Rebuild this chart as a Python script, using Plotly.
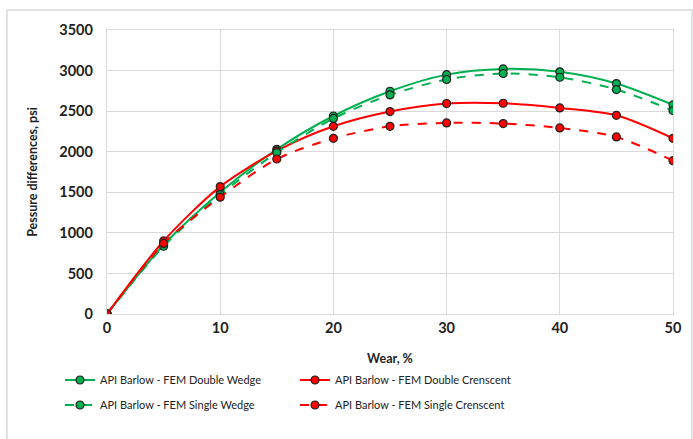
import plotly.graph_objects as go

wear = [0, 5, 10, 15, 20, 25, 30, 35, 40, 45, 50]
double_wedge = [0, 850, 1500, 2030, 2440, 2745, 2950, 3020, 2985, 2840, 2577]
single_wedge = [0, 835, 1470, 1990, 2410, 2700, 2890, 2964, 2918, 2766, 2507]
double_crescent = [0, 900, 1570, 2010, 2313, 2495, 2594, 2597, 2540, 2449, 2165]
single_crescent = [0, 870, 1440, 1910, 2165, 2313, 2355, 2347, 2293, 2182, 1890]

names = [
    "API Barlow - FEM Double Wedge",
    "API Barlow - FEM Double Crenscent",
    "API Barlow - FEM Single Wedge",
    "API Barlow - FEM Single Crenscent",
]
series = [double_wedge, double_crescent, single_wedge, single_crescent]
colors = ["#00B050", "#FF0000", "#00B050", "#FF0000"]
dashes = ["solid", "solid", "dash", "dash"]
legends = ["legend", "legend", "legend2", "legend2"]

fig = go.Figure()
for n, s, c, d, lg in zip(names, series, colors, dashes, legends):
    fig.add_trace(go.Scatter(
        x=wear, y=s, name=n, mode="lines+markers", legend=lg,
        line=dict(color=c, width=2, dash=d, shape="spline", smoothing=0.8),
        marker=dict(size=8, color=c, line=dict(color="#222222", width=1.2)),
    ))

W, H = 693, 439
L, R, T, B = 107, 20, 30, 125
pw, ph = W - L - R, H - T - B

def px(x):
    return (x - L) / pw

def py(y):
    return (H - B - y) / ph

fig.add_shape(type="rect", xref="paper", yref="paper",
              x0=px(7), x1=px(692), y0=py(460), y1=py(10),
              line=dict(color="#D9D9D9", width=1.5), fillcolor="rgba(0,0,0,0)", layer="below")

font_family = "Lato, Open Sans, sans-serif"
leg_common = dict(orientation="h", xanchor="left", yanchor="middle",
                  entrywidth=190, entrywidthmode="pixels", itemwidth=30,
                  font=dict(size=11, color="#222222"), bgcolor="rgba(0,0,0,0)")
fig.update_layout(
    width=W, height=H,
    margin=dict(l=L, r=R, t=T, b=B),
    paper_bgcolor="white", plot_bgcolor="white",
    font=dict(family=font_family, color="#333333"),
    showlegend=True,
    legend=dict(x=px(60), y=py(380), **leg_common),
    legend2=dict(x=px(60), y=py(405), **leg_common),
    xaxis=dict(range=[0, 50], dtick=10, showgrid=True, gridcolor="#D9D9D9", gridwidth=1.3,
               showline=True, linecolor="#D9D9D9", linewidth=1.3, mirror=True, zeroline=False,
               ticks="", tickfont=dict(size=14.5, color="#222222", family=font_family),
               title=dict(text="<b>Wear, %</b>", font=dict(size=12.5, color="#222222"), standoff=19)),
    yaxis=dict(range=[0, 3500], dtick=500, showgrid=True, gridcolor="#D9D9D9", gridwidth=1.3,
               showline=True, linecolor="#D9D9D9", linewidth=1.3, mirror=True, zeroline=False,
               ticks="", ticklabelstandoff=10, tickfont=dict(size=14.5, color="#222222", family=font_family),
               title=dict(text="<b>Pessure differences, psi</b>", font=dict(size=12.5, color="#222222"), standoff=18)),
)
fig.update_xaxes(tickprefix="<b>", ticksuffix="</b>")
fig.update_yaxes(tickprefix="<b>", ticksuffix="</b>")

fig.write_html("out.html", config={"displayModeBar": False},
               post_script="document.body.style.margin='0';document.body.style.padding='0';")
